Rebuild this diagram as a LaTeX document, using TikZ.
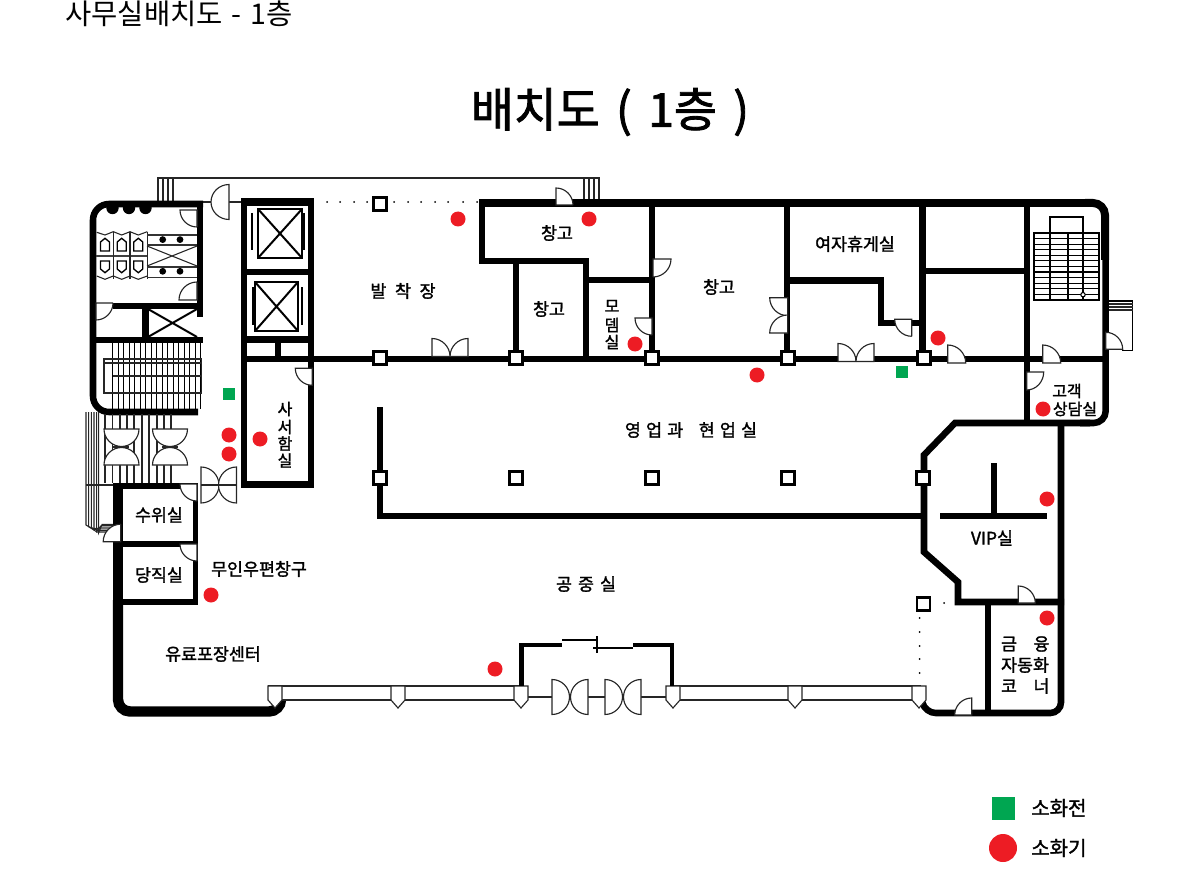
\documentclass[tikz,border=0pt]{standalone}
\usepackage{fontspec}
\setmainfont{Noto Sans CJK KR}
\newfontfamily\lblfont[FakeBold=1.6]{Noto Sans CJK KR}
\newfontfamily\ttlfont[FakeBold=1.8]{Noto Sans CJK KR}
\definecolor{fireRed}{HTML}{ED1C24}
\definecolor{hydrantGreen}{HTML}{00A651}
\newcommand\qd[6]{\draw[doorline] (#1,#2) -- ({#1+#3},{#2+#4}) .. controls ({#1+#3+.55*#5},{#2+#4+.55*#6}) and ({#1+#5+.55*#3},{#2+#6+.55*#4}) .. ({#1+#5},{#2+#6}) -- cycle;}
\newcommand\qdopen[6]{\fill[white] (#1,#2) -- ({#1+#3},{#2+#4}) .. controls ({#1+#3+.55*#5},{#2+#4+.55*#6}) and ({#1+#5+.55*#3},{#2+#6+.55*#4}) .. ({#1+#5},{#2+#6}) -- cycle;
\draw[doorline,fill=none] ({#1+#5},{#2+#6}) -- (#1,#2) -- ({#1+#3},{#2+#4}) .. controls ({#1+#3+.55*#5},{#2+#4+.55*#6}) and ({#1+#5+.55*#3},{#2+#6+.55*#4}) .. ({#1+#5},{#2+#6});}
\newcommand\hdisc[6]{\draw[doorline] ({#1+#3},{#2+#4}) .. controls ({#1+#3+.55*#5},{#2+#4+.55*#6}) and ({#1+#5+.55*#3},{#2+#6+.55*#4}) .. ({#1+#5},{#2+#6}) .. controls ({#1+#5-.55*#3},{#2+#6-.55*#4}) and ({#1-#3+.55*#5},{#2-#4+.55*#6}) .. ({#1-#3},{#2-#4}) -- cycle;}
\newcommand\post[1]{\draw[doorline] ({#1-7},686) -- ({#1+7},686) -- ({#1+7},700) -- (#1,708) -- ({#1-7},700) -- cycle;}
\newcommand\col[2]{\draw[line width=1.6pt,fill=white] ({#1-6.5},{#2-6.5}) rectangle ({#1+6.5},{#2+6.5});}
\newcommand\ext[2]{\fill[fireRed] (#1,#2) circle[radius=7.5];}
\tikzset{
 wall/.style={line width=4.9pt,line join=miter},
 wallthick/.style={line width=6pt},
 wallthin/.style={line width=3.6pt},
 wallheavy/.style={line width=7.8pt},
 thinline/.style={line width=0.8pt,draw=black!85},
 medline/.style={line width=1.5pt},
 doorline/.style={line width=0.85pt,draw=black!85,fill=white},
 lbl/.style={inner sep=0,font=\lblfont\fontsize{13pt}{15pt}\selectfont,align=center},
 lblsmall/.style={inner sep=0,font=\lblfont\fontsize{12pt}{14pt}\selectfont,align=center},
 lbllegend/.style={inner sep=0,font=\lblfont\fontsize{15pt}{17pt}\selectfont,align=center},
}
\begin{document}
\begin{tikzpicture}[x=0.75pt,y=-0.75pt]
\useasboundingbox (0,0) rectangle (1200,870);

% titles
\node[inner sep=0,anchor=west,font=\fontsize{21.4pt}{24pt}\selectfont] (pageTitle) at (65,14) {사무실배치도\hspace{0.32em}-\hspace{0.32em}1층};
\node[inner sep=0,font=\ttlfont\fontsize{35pt}{40pt}\selectfont] (mainTitle) at (610,112) {배치도\hspace{0.35em}(\hspace{0.35em}1층\hspace{0.35em})};

% top canopy
\draw[thinline] (158,201) -- (158,178) -- (599,178) -- (599,199);
\foreach \x in {163,168,173} \draw[thinline] (\x,178) -- (\x,201);
\foreach \x in {584,589,594} \draw[thinline] (\x,178) -- (\x,199);
\draw[thinline] (203,202) -- (241,202);

% top dotted line
\foreach \x in {327,340,354,367,394,408,421,435,448,463,477} \fill (\x,202) circle[radius=1];
\foreach \y in {618,632,646,659,673} \fill (919.5,\y) circle[radius=1];
\fill (944,603) circle[radius=1];

% left washroom block walls
\draw[wall,rounded corners=12pt] (198,412) -- (93,412) -- (93,204) -- (203,204);
\draw[wall] (200,204) -- (200,317);
\draw[wall] (113,306) -- (200,306);
\draw[wall] (93,340) -- (203,340);
\draw[wall] (145.5,306) -- (145.5,340);
\draw[medline] (148,309) -- (197,337) (148,337) -- (197,309);

% toilets
\foreach \x in {112.5,129,145.5} \fill (\x,208) circle[radius=6.2];
\draw[thinline] (96.7,232.3) -- (105,235) -- (113.3,231.7) -- (121.7,235) -- (130,231.7) -- (138.3,235) -- (147.3,231.7);
\draw[thinline] (96.7,276) -- (105,279.3) -- (113.3,276) -- (121.7,279.3) -- (130,276) -- (138.3,279.3) -- (147.3,276);
\draw[line width=1.3pt,black!75] (96,255.7) -- (147,255.7);
\foreach \x in {113.3,130,147.3} \draw[thinline] (\x,232) -- (\x,279);
\foreach \x in {105,121.7,138.3} {
 \draw[line width=1pt] ({\x-4.5},251) -- ({\x-4.5},242) -- (\x,238.3) -- ({\x+4.5},242) -- ({\x+4.5},251) -- cycle;
 \draw[line width=1pt] ({\x-4.5},261) -- ({\x-4.5},269) -- (\x,272.7) -- ({\x+4.5},269) -- ({\x+4.5},261) -- cycle;
}
\foreach \y in {235,245,266.7,277.3} \draw[line width=1.2pt,black!80] (147,\y) -- (197,\y);
\draw[thinline] (147,246) -- (197,266) (147,266) -- (197,246);
\foreach \x in {162.7,180} \foreach \y in {239.6,271.3} \fill (\x,\y) circle[radius=3.4];
\qdopen{197}{210}{-17}{0}{0}{17}
\qdopen{197}{300}{-18}{0}{0}{-18}
\qdopen{96}{303}{0}{17}{17}{0}

% left stairs
\foreach \i in {0,...,16} \draw[line width=1pt] ({112.7+5.5*\i},343) -- ({112.7+5.5*\i},409);
\draw[thinline] (104,359) rectangle (201.5,393);
\draw[thinline] (104,363) -- (201.5,363);
\draw[thinline] (112.7,376) -- (201.5,376);

% left entrance
\foreach \x in {105,112.7,120,127,134,157,164,171} {
 \draw[thinline] (\x,414) -- (\x,483);
}
\foreach \x in {142,149} \draw[thinline] (\x,414) -- (\x,483);
\foreach \x in {86,88.7,91.3,94,96.7,98.7} \draw[thinline] (\x,412) -- (\x,{525+(\x-86)*.6}) -- ({97+(\x-86)*.4},{532-(\x-86)*.6}) -- (113,{532-(\x-86)*.6});
\draw[thinline] (86,485) -- (113,485);
\hdisc{121.5}{429}{17.5}{0}{0}{17.5}
\hdisc{121.5}{465}{17.5}{0}{0}{-17.5}
\hdisc{170}{429}{17.5}{0}{0}{17.5}
\hdisc{170}{465}{17.5}{0}{0}{-17.5}
\draw[thinline] (113.3,447) -- (128.5,447) (161.7,447) -- (177.7,447);
\hdisc{201}{485}{0}{18}{18}{0}
\hdisc{236.5}{485}{0}{18}{-18}{0}
\draw[thinline] (201,485) -- (236.5,485);

% rooms at left
\draw[wallheavy] (118,483) -- (118,640);
\draw[wall] (113.5,486) -- (198,486);
\draw[wall] (118,544) -- (198,544);
\draw[wall] (118,602) -- (198,602);
\draw[line width=4pt] (195.5,484) -- (195.5,604);
\qdopen{197}{484}{-17}{0}{0}{17}
\qdopen{197}{544}{-17}{0}{0}{17}
\qdopen{120.7}{541.7}{-17.5}{0}{0}{-17.5}

% bottom-left wall
\draw[wallheavy,rounded corners=9pt] (118,600) -- (118,711.5) -- (281,711.5) -- (281,700);

% elevator block
\draw[wall] (244,199) -- (244,487);
\draw[wall] (311,199) -- (311,487);
\draw[wallthick] (241,202.5) -- (314,202.5);
\draw[wall] (241,272) -- (314,272);
\draw[wall] (241,339.5) -- (314,339.5);
\draw[wall] (278,339.5) -- (278,359);
\draw[wall] (241,484.5) -- (314,484.5);
\draw[line width=1.6pt] (258,209) rectangle (302,258);
\draw[medline] (258,209) -- (302,258) (258,258) -- (302,209);
\draw[line width=1pt] (252,213) -- (252,250) (304,213) -- (304,250);
\draw[line width=1.6pt] (255,282) rectangle (298,331);
\draw[medline] (255,282) -- (298,331) (255,331) -- (298,282);
\draw[line width=1pt] (253,287) -- (253,325) (302,287) -- (302,325);
\qdopen{312.3}{368.3}{-17}{0}{0}{17}

% main corridor wall
\draw[wall] (241,359) -- (1106,359);

% top wall and right building outline
\draw[wallthick] (479,203) -- (1090,203);
\draw[wallthick,rounded corners=9pt] (1085,203) -- (1105,203) -- (1105,260);
\draw[wall,rounded corners=9pt] (1105.7,255) -- (1105.7,423) -- (1080,423);
\draw[wall,line join=miter] (1090,423) -- (955,423) -- (924,455) -- (924,552) -- (958,582) -- (958,602) -- (1064,602);
\draw[wall,rounded corners=8pt] (1061,421) -- (1061,713) -- (925,713) -- (921,697);

% storage walls
\draw[wall] (482,200) -- (482,261) -- (586,261) -- (586,359);
\draw[wall] (586,280) -- (652,280);
\draw[wall] (652,203) -- (652,359);
\draw[wall] (516,261) -- (516,359);
\draw[wall] (787,203) -- (787,359);
\draw[wall] (787,280.5) -- (881,280.5) -- (881,323) -- (922,323);
\draw[wall] (922.5,203) -- (922.5,359);
\draw[wall] (922,271) -- (1027,271);
\draw[wall] (1027,203) -- (1027,423);

% corridor partition
\draw[wall] (380,407) -- (380,516) -- (924,516);
\draw[wall] (940,516) -- (1047,516);
\draw[wall] (994,463) -- (994,516);
\draw[wall] (988,602) -- (988,713);

% doors in the main part
\hdisc{229}{202}{0}{-17.5}{-18}{0}
\qdopen{556}{205}{0}{-17}{17}{0}
\qdopen{653}{259}{18}{0}{0}{18}
\qdopen{652}{318}{-17}{0}{0}{17}
\qdopen{468}{356.5}{0}{-18}{-18}{0}
\qdopen{432}{356.5}{0}{-18}{18}{0}
\qdopen{787.7}{297.7}{-18}{0}{0}{18}
\qdopen{787.7}{333}{-18}{0}{0}{-18}
\qdopen{838}{361.5}{0}{-18}{18}{0}
\qdopen{874}{361.5}{0}{-18}{-18}{0}
\qdopen{911.7}{319.3}{-17}{0}{0}{17}
\qd{947.7}{363}{0}{-18}{18}{0}
\qd{1042.7}{363}{0}{-18}{18}{0}
\qd{1026.7}{372}{17}{0}{0}{18}
\qd{1018.3}{603}{0}{-17}{17}{0}
\qd{971.7}{715}{0}{-17}{-17}{0}

% right stairs
\draw[line width=1.2pt] (1034,233) rectangle (1099,300);
\foreach \i in {1,...,11} \draw[line width=0.9pt] (1034,{233+5.58*\i}) -- (1099,{233+5.58*\i});
\foreach \x in {1050,1068,1083} \draw[line width=0.9pt] (\x,233) -- (\x,300);
\draw[line width=0.9pt] (1050,233) -- (1050,217) -- (1083,217) -- (1083,233);
\draw[line width=0.8pt,fill=white] (1083,294.7) circle[radius=2.2];

% right annex
\draw[line width=1pt] (1109,301) -- (1132.7,301) -- (1132.7,350.7) -- (1122,350.7);
\foreach \y in {304,307,310} \draw[thinline] (1109,\y) -- (1132.7,\y);
\qd{1105.7}{349.3}{0}{-17}{17}{0}

% columns
\foreach \x in {380,516,652,788,924} {\col{\x}{358}}
\foreach \x in {380,516,652,788,923} {\col{\x}{478}}
\col{380}{204}
\col{923.5}{604}

% bottom glazing
\draw[thinline] (268,686) -- (521,686) (268,700) -- (521,700);
\draw[thinline] (673,686) -- (921,686) (673,700) -- (921,700);
\draw[thinline] (521,697) -- (673,697);
\foreach \x in {275,398,521,673,795,919} {\post{\x}}

% vestibule
\draw[wallthin] (521.5,686) -- (521.5,645) -- (562,645);
\draw[line width=2.2pt] (562,640) -- (598,640);
\draw[line width=1.5pt] (597,636) -- (597,653);
\draw[line width=2.2pt] (593,648) -- (633,648);
\draw[wallthin] (633,645) -- (672,645) -- (672,686);
\hdisc{552}{697}{0}{17.5}{17.5}{0}
\hdisc{588}{697}{0}{17.5}{-17.5}{0}
\hdisc{605}{697}{0}{17.5}{17.5}{0}
\hdisc{641}{697}{0}{17.5}{-17.5}{0}

% labels
\node[lbl] (r1) at (557,233) {창고};
\node[lbl] (r2) at (549,309) {창고};
\node[lblsmall] (r3m) at (612,306) {모};
\node[lblsmall] (r3d) at (612,325) {뎀};
\node[lblsmall] (r3s) at (612,342) {실};
\node[lbl] (r4) at (719,287) {창고};
\node[lbl] (r5) at (855,244) {여자휴게실};
\node[lbl] (r6) at (403,291) {발\hspace{0.5em}착\hspace{0.5em}장};
\node[lblsmall] (r7a) at (285,409) {사};
\node[lblsmall] (r7b) at (285,427) {서};
\node[lblsmall] (r7c) at (285,443.5) {함};
\node[lblsmall] (r7d) at (285,460.5) {실};
\node[lbl] (r8) at (691,430) {영\hspace{0.3em}업\hspace{0.3em}과\hspace{0.9em}현\hspace{0.3em}업\hspace{0.3em}실};
\node[lbl] (r9) at (586,584) {공\hspace{0.35em}중\hspace{0.35em}실};
\node[lbl] (r10) at (159,515) {수위실};
\node[lbl] (r11) at (159,575) {당직실};
\node[lbl] (r12) at (259,569) {무인우편창구};
\node[lbl] (r13) at (213,654) {유료포장센터};
\node[lbl] (r14) at (992,538) {VIP실};
\node[lblsmall] (r15a) at (1067,391) {고객};
\node[lblsmall] (r15b) at (1075,409) {상담실};
\node[lbl] (r16a) at (1009,644) {금};
\node[lbl] (r16b) at (1041.5,644) {융};
\node[lbl] (r16c) at (1025,665) {자동화};
\node[lbl] (r16d) at (1009,686) {코};
\node[lbl] (r16e) at (1041.5,686) {너};

% fire equipment
\fill[hydrantGreen] (223,388) rectangle (235,400);
\fill[hydrantGreen] (896,366) rectangle (908,378);
\ext{458}{219}\ext{589}{219}\ext{635}{344}\ext{757}{375}\ext{938}{338}\ext{1043}{409}
\ext{1047}{499}\ext{1047}{618}\ext{495}{669}\ext{211}{595}\ext{260}{439}\ext{229}{435}\ext{229}{454}

% legend
\fill[hydrantGreen] (992,797) rectangle (1015,820);
\fill[fireRed] (1003,848) circle[radius=14];
\node[lbllegend,anchor=west] (leg1) at (1031,808) {소화전};
\node[lbllegend,anchor=west] (leg2) at (1031,848) {소화기};
\end{tikzpicture}
\end{document}
